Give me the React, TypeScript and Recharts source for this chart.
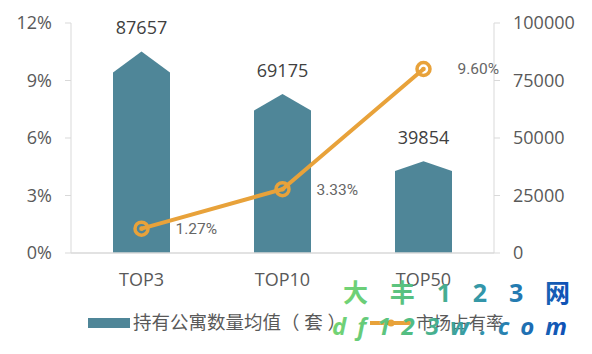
import React from 'react';
import { ComposedChart, Bar, Line, XAxis, YAxis, LabelList } from 'recharts';

const categories = ['TOP3', 'TOP10', 'TOP50'];
const holdings = [87657, 69175, 39854];
const shares = [1.27, 3.33, 9.6];
const leftTicks = [0, 3, 6, 9, 12];
const rightTicks = [0, 25000, 50000, 75000, 100000];
const seriesNames = ['持有公寓数量均值（ 套 ）', '市场占有率'];

const data = categories.map((c, i) => ({ name: c, holdings: holdings[i], share: shares[i] }));

const BAR = '#4f8698';
const LINE = '#e8a23a';
const AXIS = '#d9d9d9';
const TICK = '#595959';
const FONT = '"Open Sans", "Noto Sans CJK SC", sans-serif';

const Pentagon = (props: any) => {
  const { x, y, width, height } = props;
  if (!height || height <= 0) return null;
  const s = height * 0.105;
  const d = `M${x},${y + height} L${x},${y + s} L${x + width / 2},${y} L${x + width},${y + s} L${x + width},${y + height} Z`;
  return <path d={d} fill={BAR} />;
};

const Marker = (props: any) => {
  const { cx, cy } = props;
  if (cx == null || cy == null) return null;
  return (
    <g>
      <circle cx={cx} cy={cy} r={6.5} fill="none" stroke={LINE} strokeWidth={3.5} />
      <circle cx={cx} cy={cy} r={2.3} fill={LINE} />
    </g>
  );
};

const BarLabel = (props: any) => {
  const { x, y, width, value } = props;
  return (
    <text x={x + width / 2} y={y - 17} textAnchor="middle" fill="#404040" fontSize={18} fontFamily={FONT}>
      {value}
    </text>
  );
};

const LineLabel = (props: any) => {
  const { x, y, value } = props;
  return (
    <text x={x + 34} y={y} dy="0.35em" textAnchor="start" fill="#666666" fontSize={15.5} fontFamily='Roboto, sans-serif'>
      {`${Number(value).toFixed(2)}%`}
    </text>
  );
};

export default function App() {
  return (
    <div style={{ position: 'absolute', left: 0, top: 0, width: 592, height: 354, background: '#fff' }}>
      <ComposedChart width={592} height={354} data={data} margin={{ top: 23, right: 0, bottom: 0, left: 0 }}>
        <XAxis
          dataKey="name"
          height={101}
          axisLine={{ stroke: AXIS, strokeWidth: 1.5 }}
          tickLine={false}
          tickSize={6}
          tickMargin={14}
          tick={{ fill: TICK, fontSize: 18, fontFamily: FONT }}
        />
        <YAxis
          yAxisId="left"
          orientation="left"
          width={71}
          domain={[0, 12]}
          ticks={leftTicks}
          tickFormatter={(v: number) => `${v}%`}
          axisLine={{ stroke: AXIS }}
          tickLine={{ stroke: AXIS }}
          tickSize={6}
          tickMargin={13}
          tick={{ fill: TICK, fontSize: 18, fontFamily: FONT }}
        />
        <YAxis
          yAxisId="right"
          orientation="right"
          width={98}
          domain={[0, 100000]}
          ticks={rightTicks}
          axisLine={{ stroke: AXIS }}
          tickLine={{ stroke: AXIS }}
          tickSize={6}
          tickMargin={13}
          tick={{ fill: TICK, fontSize: 18, fontFamily: FONT }}
        />
        <Bar yAxisId="right" dataKey="holdings" barSize={57} shape={<Pentagon />} isAnimationActive={false}>
          <LabelList dataKey="holdings" content={<BarLabel />} />
        </Bar>
        <Line
          yAxisId="left"
          dataKey="share"
          stroke={LINE}
          strokeWidth={4}
          dot={<Marker />}
          activeDot={false}
          isAnimationActive={false}
        >
          <LabelList dataKey="share" content={<LineLabel />} />
        </Line>
      </ComposedChart>
      <svg width={592} height={354} style={{ position: 'absolute', left: 0, top: 0, pointerEvents: 'none' }}>
        <defs>
          <linearGradient id="wm" x1="0" y1="0" x2="1" y2="0">
            <stop offset="0%" stopColor="#74d474" />
            <stop offset="35%" stopColor="#50bb84" />
            <stop offset="65%" stopColor="#2f90ae" />
            <stop offset="100%" stopColor="#0f4fb6" />
          </linearGradient>
        </defs>
        <rect x={88} y={318} width={42} height={10} fill={BAR} />
        <text x={133} y={323} dy="0.35em" fill={TICK} fontSize={18.5} fontFamily={FONT}>{seriesNames[0]}</text>
        <line x1={370} y1={323} x2={413} y2={323} stroke={LINE} strokeWidth={4} />
        <circle cx={391} cy={323} r={3.5} fill={LINE} />
        <text x={416} y={323} dy="0.35em" fill={TICK} fontSize={17.5} fontFamily={FONT}>{seriesNames[1]}</text>
        <text x={343} y={302} fontSize={25} fontWeight="bold" fontFamily={FONT} fill="url(#wm)" textLength={227} lengthAdjust="spacing">大丰123网</text>
        <text x={332} y={335} fontSize={24} fontWeight="bold" fontStyle="italic" fontFamily={FONT} fill="url(#wm)" textLength={235} lengthAdjust="spacing">df123w.com</text>
      </svg>
    </div>
  );
}
